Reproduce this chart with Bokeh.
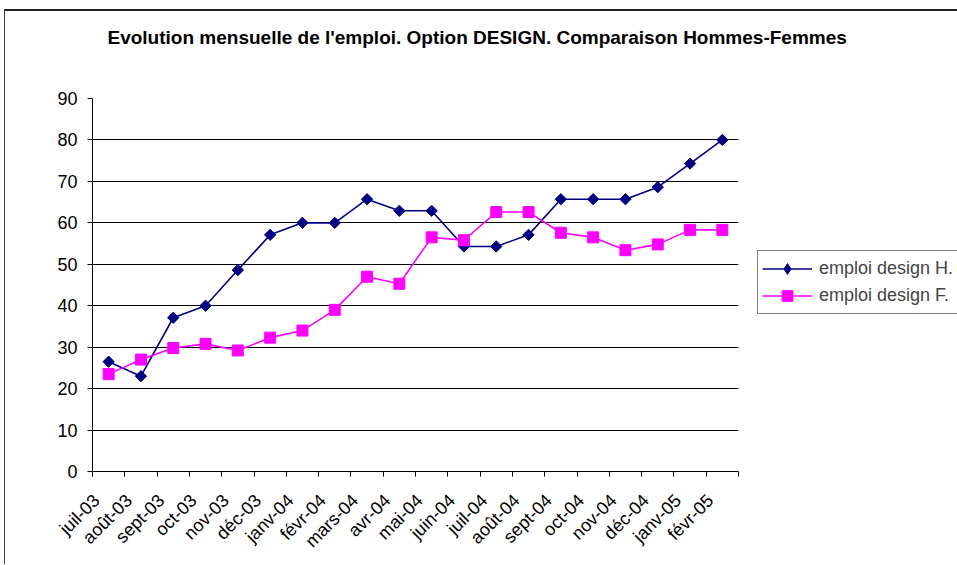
import math
from bokeh.plotting import figure
from bokeh.models import (FixedTicker, Range1d, Legend, LegendItem, Grid, Title,
                          ColumnDataSource)
from bokeh.embed import file_html
from bokeh.resources import INLINE

months = ["juil-03", "août-03", "sept-03", "oct-03", "nov-03", "déc-03",
          "janv-04", "févr-04", "mars-04", "avr-04", "mai-04", "juin-04",
          "juil-04", "août-04", "sept-04", "oct-04", "nov-04", "déc-04",
          "janv-05", "févr-05"]
emploi_h = [26.5, 23.0, 37.1, 40.0, 48.6, 57.1, 60.0, 60.0, 65.7, 62.9,
            62.9, 54.3, 54.3, 57.1, 65.7, 65.7, 65.7, 68.6, 74.3, 80.0]
emploi_f = [23.5, 27.0, 29.8, 30.8, 29.2, 32.3, 34.0, 39.0, 47.0, 45.3,
            56.5, 55.8, 62.6, 62.6, 57.6, 56.5, 53.4, 54.8, 58.3, 58.3]
y_ticks = [0, 10, 20, 30, 40, 50, 60, 70, 80, 90]

title_text = "Evolution mensuelle de l'emploi. Option DESIGN. Comparaison Hommes-Femmes"
FONT = "Liberation Sans"

xs = [i + 0.5 for i in range(len(months))]
label_pos = [i + 0.13 for i in range(len(months))]   # label anchor (left of centre, like Excel)
src = ColumnDataSource(dict(x=xs, h=emploi_h, f=emploi_f))

p = figure(frame_width=646, frame_height=373, output_backend="svg", toolbar_location=None,
           x_range=Range1d(0, len(months)), y_range=Range1d(0, 90),
           min_border_left=87, min_border_right=217, min_border_top=87,
           min_border_bottom=93, background_fill_color="white",
           border_fill_color="white", title=None)
# off-screen range used only by the legend proxy glyph
p.extra_y_ranges = {"legend_only": Range1d(1000, 1001)}
p.styles = {"border-top": "2px solid #222", "border-left": "1px solid #444",
            "margin-left": "4px", "margin-top": "9px"}
p.outline_line_color = None
p.xgrid.visible = False
p.ygrid.ticker = FixedTicker(ticks=y_ticks[1:-1])
p.ygrid.grid_line_color = "black"
p.ygrid.grid_line_width = 1
p.add_layout(Grid(dimension=1, ticker=FixedTicker(ticks=[y_ticks[-1]]),
                  grid_line_color="#d8d8d8", grid_line_width=1))

# y axis
ya = p.yaxis[0]
ya.ticker = FixedTicker(ticks=y_ticks)
ya.axis_line_color = "black"
ya.major_tick_line_color = "black"
ya.major_tick_in = 0
ya.major_tick_out = 5
ya.minor_tick_line_color = None
ya.major_label_text_font = FONT
ya.major_label_text_font_size = "18px"
ya.major_label_text_color = "black"
ya.major_label_standoff = 10

# x axis
xa = p.xaxis[0]
xa.ticker = FixedTicker(ticks=label_pos, minor_ticks=list(range(len(months) + 1)))
xa.major_label_overrides = {x: m for x, m in zip(label_pos, months)}
xa.axis_line_color = "black"
xa.major_tick_line_color = None
xa.minor_tick_line_color = "black"
xa.minor_tick_in = 0
xa.minor_tick_out = 5
xa.major_label_orientation = math.pi / 4
xa.major_label_text_font = FONT
xa.major_label_text_font_size = "18px"
xa.major_label_text_color = "black"
xa.major_label_standoff = 20

NAVY = "#000080"
MAG = "#FF00FF"
lh = p.line("x", "h", source=src, line_color=NAVY, line_width=1.6)
mh = p.scatter("x", "h", source=src, marker="square", angle=math.pi / 4, size=8,
               fill_color=NAVY, line_color=NAVY)
lf = p.line("x", "f", source=src, line_color=MAG, line_width=1.6)
mf = p.scatter("x", "f", source=src, marker="square", size=11,
               fill_color=MAG, line_color=MAG)
# legend-only diamond (legend glyphs ignore marker rotation); drawn off-screen
mh_leg = p.scatter("x", "h", source=src, y_range_name="legend_only",
                   marker="diamond", size=14, fill_color=NAVY, line_color=NAVY)

legend = Legend(items=[LegendItem(label="emploi design H.", renderers=[lh, mh_leg]),
                       LegendItem(label="emploi design F.", renderers=[lf, mf])],
                location=(19, 157), border_line_color="black", border_line_width=1,
                background_fill_color="white", background_fill_alpha=1,
                glyph_width=50, glyph_height=27, label_text_font=FONT,
                label_text_font_size="18px", label_standoff=7, spacing=0,
                padding=4, margin=0)
p.add_layout(legend, "right")

title = Title(text=title_text + "\n\u00a0\n\u00a0", align="left", offset=15,
              vertical_align="top", standoff=14, text_font=FONT,
              text_font_size="19px", text_font_style="bold", text_color="black")
p.add_layout(title, "above")

open("out.html", "w").write(file_html(p, INLINE))
